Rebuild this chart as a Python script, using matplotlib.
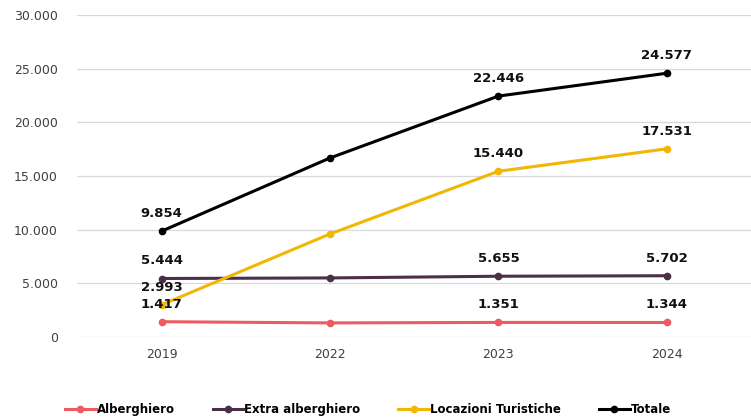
import matplotlib.pyplot as plt
from matplotlib.ticker import FuncFormatter

years = ["2019", "2022", "2023", "2024"]
alberghiero = [1417, 1304, 1351, 1344]
extra_alberghiero = [5444, 5497, 5655, 5702]
locazioni = [2993, 9597, 15440, 17531]
totale = [9854, 16677, 22446, 24577]

series = [
    ("Alberghiero", alberghiero, "#EB5B60"),
    ("Extra alberghiero", extra_alberghiero, "#4A2F48"),
    ("Locazioni Turistiche", locazioni, "#F2B705"),
    ("Totale", totale, "#000000"),
]
labelled = [0, 2, 3]  # 2022 has no data labels

def fmt_it(v, pos=None):
    return f"{int(v):,}".replace(",", ".")

plt.rcParams['font.family'] = ['DejaVu Sans']
fig = plt.figure(figsize=(7.51, 4.18), dpi=100)
ax = fig.add_axes([0.103, 0.194, 0.897, 0.77])

x = list(range(len(years)))
for name, vals, col in series:
    ax.plot(x, vals, color=col, lw=2.2, marker="o", ms=4.5, label=name, zorder=3)
    for i in labelled:
        ax.annotate(fmt_it(vals[i]), (x[i], vals[i]), xytext=(0, 8), textcoords="offset points",
                    ha="center", va="bottom", fontsize=9.5, fontweight="bold", color="#111111", zorder=4)

ax.set_xlim(-0.5, len(years) - 0.5)
ax.set_ylim(0, 30000)
ax.set_yticks(range(0, 30001, 5000))
ax.yaxis.set_major_formatter(FuncFormatter(fmt_it))
ax.set_xticks(x)
ax.set_xticklabels(years)
ax.grid(axis="y", color="#D9D9D9", lw=0.9)
ax.set_axisbelow(True)
for s in ax.spines.values():
    s.set_visible(False)
ax.tick_params(axis="both", length=0, labelsize=9, colors="#404040", pad=8)
ax.tick_params(axis="y", pad=14)

leg = fig.legend(loc="lower center", bbox_to_anchor=(0.49, -0.02), ncol=4, frameon=False,
                 prop={"size": 8.5, "weight": "bold"}, handlelength=2.6, columnspacing=3.2,
                 handletextpad=0.1)

fig.savefig("out.png", dpi=100)
